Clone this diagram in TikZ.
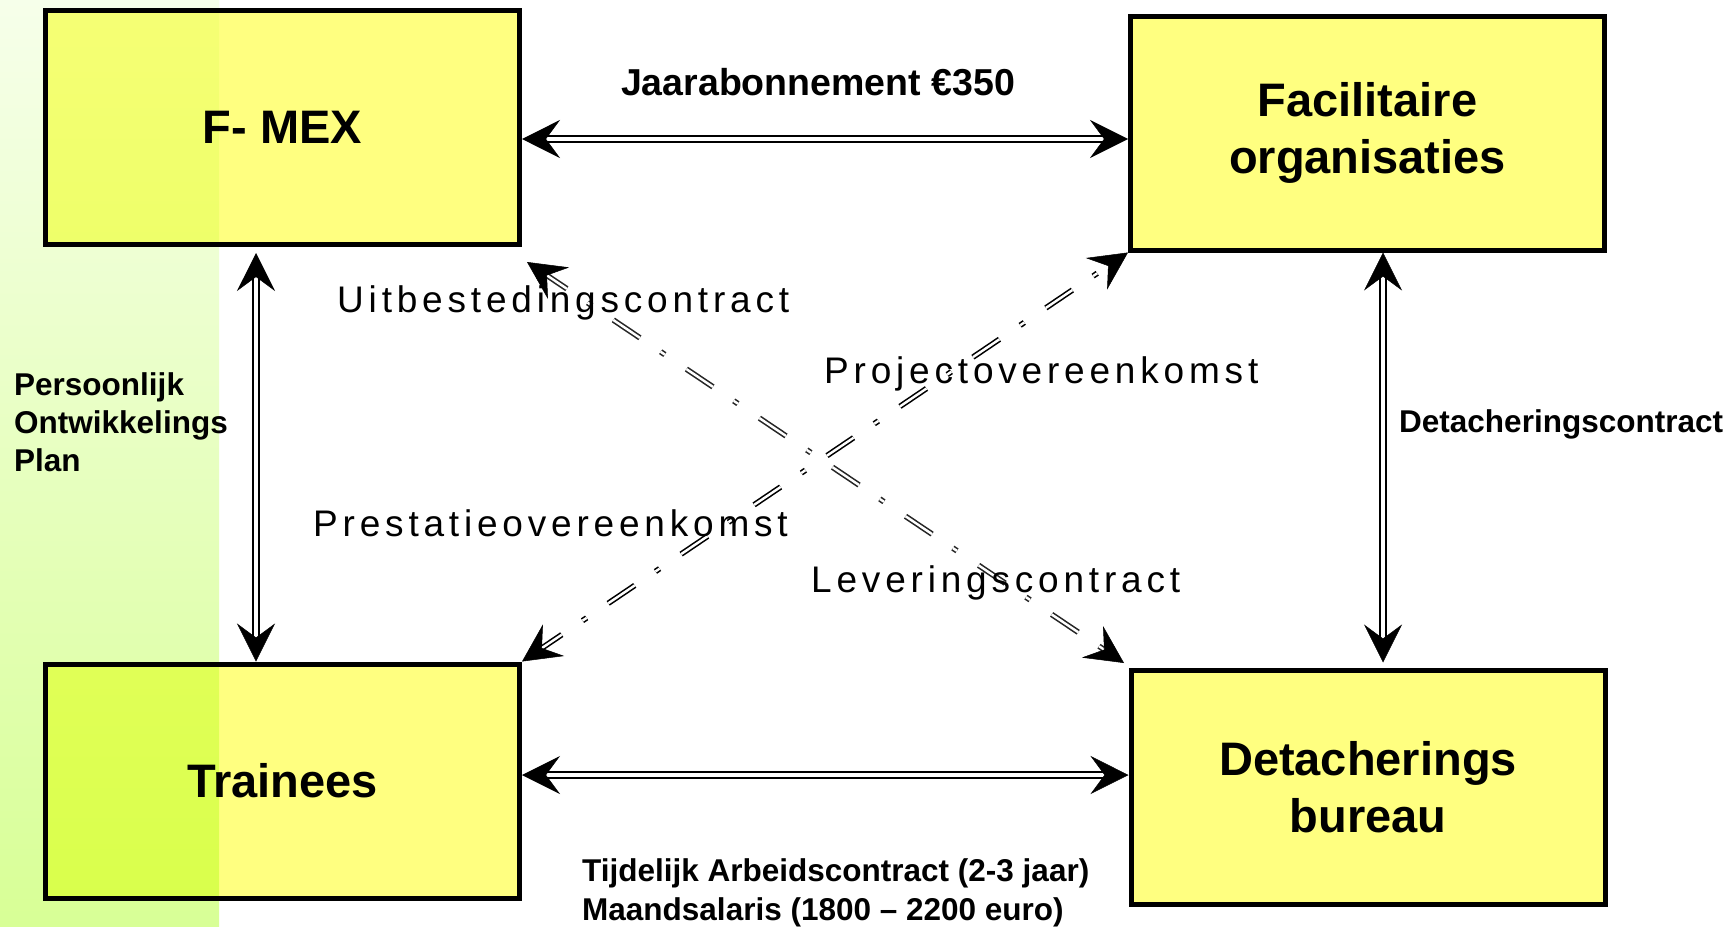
\documentclass[tikz,border=0pt]{standalone}
\usepackage{fontspec}
\setmainfont{Liberation Sans}
\newfontfamily\thinfont[LetterSpace=13]{Liberation Sans}
\usetikzlibrary{arrows.meta,calc}
\definecolor{boxyellow}{RGB}{255,255,128}
\definecolor{gtop}{RGB}{246,255,234}
\definecolor{gbot}{RGB}{216,255,150}
\tikzset{
  box/.style={draw=black, line width=5pt, fill=boxyellow, minimum width=474pt,
    minimum height=234pt, inner sep=0pt, align=center,
    font=\bfseries\fontsize{47}{57}\selectfont},
  lbl/.style={inner sep=0pt, font=\bfseries\fontsize{31.5}{38}\selectfont},
  biglbl/.style={inner sep=0pt, font=\bfseries\fontsize{37.5}{44}\selectfont},
  thinlbl/.style={inner sep=0pt, font=\thinfont\fontsize{37}{44}\selectfont},
  dbl/.style={draw=black, double=white, double distance=3.2pt, line width=2.4pt,
    shorten <=16pt, shorten >=16pt},
  dashdbl/.style={draw=#1, double=white, double distance=2.4pt, line width=1.6pt,
    dash pattern=on 32pt off 25pt on 5pt off 26pt, shorten <=16pt, shorten >=16pt},
  dashdbl/.default=black,
  tipst/.style={draw=#1, -{Stealth[length=38pt, width=38pt, inset=14pt]}, line width=0.5pt},
  tipst/.default=black
}
\newcommand\dtips[3][black]{%
  \draw[tipst=#1] ($(#2)!2pt!(#3)$) -- (#2);
  \draw[tipst=#1] ($(#3)!2pt!(#2)$) -- (#3);}
\begin{document}
\begin{tikzpicture}[x=1pt,y=-1pt]
\useasboundingbox (0,0) rectangle (1734,926);
\fill[white] (0,0) rectangle (1734,926);

% boxes
\node[box] (fmex) at (282.5,127.5) {F- MEX};
\node[box] (fac) at (1367.5,133) {Facilitaire\\organisaties};
\node[box] (tr) at (282.5,781) {Trainees};
\node[box] (det) at (1368,787) {Detacherings\\bureau};

% connector end points
\coordinate (ta) at (fmex.east |- 0,139);
\coordinate (tb) at (fac.west |- 0,139);
\coordinate (ba) at (tr.east |- 0,775);
\coordinate (bb) at (det.west |- 0,775);
\coordinate (la) at ($(fmex.south -| 256,0)+(0,6)$);
\coordinate (lb) at (tr.north -| 256,0);
\coordinate (ra) at (fac.south -| 1383,0);
\coordinate (rb) at ($(det.north -| 1383,0)+(0,-5)$);
\coordinate (ua) at ($(fmex.south east)+(5,15)$);
\coordinate (ub) at ($(det.north west)+(-4.5,-4.5)$);
\coordinate (pa) at (tr.north east);
\coordinate (pb) at (fac.south west);

% solid double connectors
\draw[dbl] (ta) -- (tb); \dtips{ta}{tb}
\draw[dbl] (ba) -- (bb); \dtips{ba}{bb}
\draw[dbl] (la) -- (lb); \dtips{la}{lb}
\draw[dbl] (ra) -- (rb); \dtips{ra}{rb}

% dash-dot double connectors
\draw[dashdbl=black!85] (ua) -- (ub); \dtips{ua}{ub}
\draw[dashdbl] (pa) -- (pb); \dtips{pa}{pb}

% labels
\node[biglbl, anchor=base] (jaar) at (818,95) {Jaarabonnement €350};
\node[lbl, anchor=base west] (detc) at (1399,432) {Detacheringscontract};
\node[lbl, anchor=west, align=left] (pop) at (14,422) {Persoonlijk\\Ontwikkelings\\Plan};
\node[lbl, anchor=base west] (tijd) at (582,881) {Tijdelijk Arbeidscontract (2-3 jaar)};
\node[lbl, anchor=base west] (maand) at (582,920) {Maandsalaris (1800 – 2200 euro)};

\node[thinlbl, anchor=base west] (uit) at (337,312) {Uitbestedingscontract};
\node[thinlbl, anchor=base west] (proj) at (824,383) {Projectovereenkomst};
\node[thinlbl, anchor=base west] (prest) at (313,536) {Prestatieovereenkomst};
\node[thinlbl, anchor=base west] (lev) at (811,592) {Leveringscontract};

% green strip (multiplied over everything)
\begin{scope}[blend mode=multiply]
\shade[top color=gtop, bottom color=gbot] (0,0) rectangle (219,926);
\end{scope}
\end{tikzpicture}
\end{document}
